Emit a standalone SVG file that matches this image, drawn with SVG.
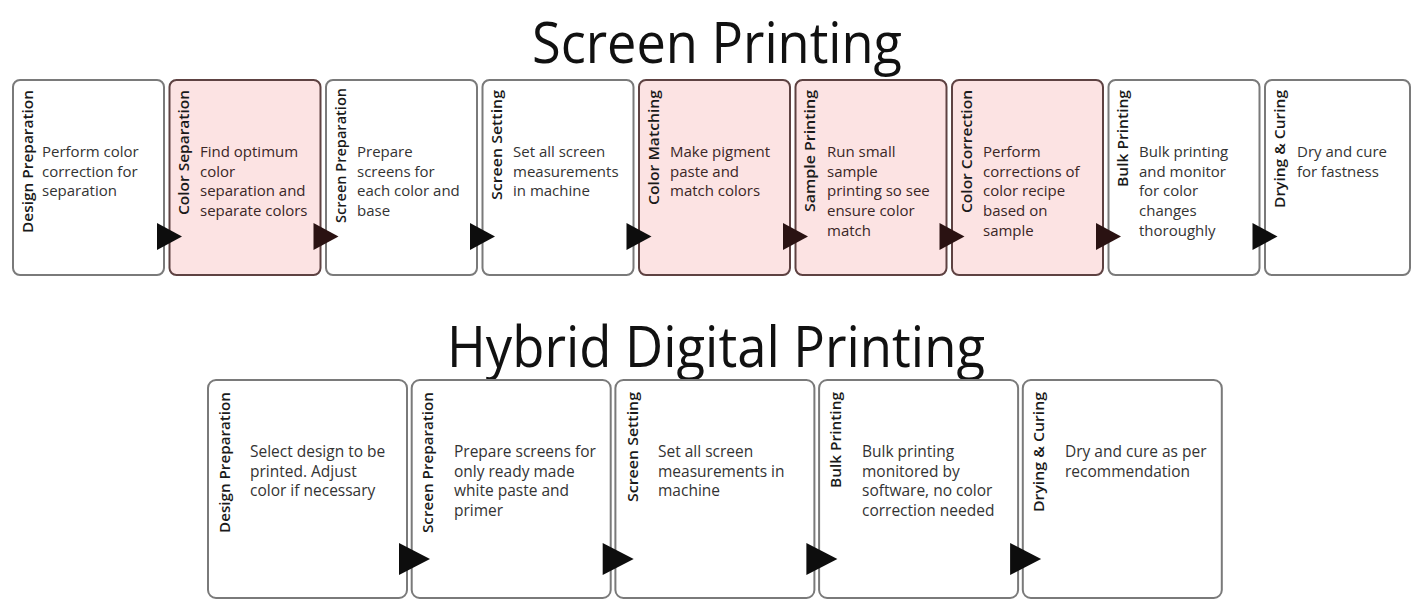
<svg xmlns="http://www.w3.org/2000/svg" width="1414" height="600" viewBox="0 0 1414 600">
<style>
.bg{fill:#ffffff}
.title{font-family:"Open Sans","Liberation Sans",sans-serif;font-size:56px;fill:#111;text-anchor:middle}
.box{fill:#ffffff;stroke:#7a7a7a;stroke-width:2}
.pink{fill:#fce3e3;stroke:#5e4242;stroke-width:2}
.lbl{font-family:"Open Sans","Liberation Sans",sans-serif;font-size:14px;font-weight:600;fill:#1a1a1a;text-anchor:end}
.txt{font-family:"Open Sans","Liberation Sans",sans-serif;font-size:15px;fill:#333}
.ptxt{font-family:"Open Sans","Liberation Sans",sans-serif;font-size:15px;fill:#3a2626}
.btxt{font-family:"Open Sans","Liberation Sans",sans-serif;font-size:15.5px;fill:#333}
.arr{fill:#0d0d0d}
.parr{fill:#2a1212}
</style>
<rect class="bg" x="0" y="0" width="1414" height="600"/>
<text class="title" x="717" y="63" textLength="370" lengthAdjust="spacingAndGlyphs">Screen Printing</text>
<text class="title" x="716" y="367" textLength="538" lengthAdjust="spacingAndGlyphs">Hybrid Digital Printing</text>

<!-- Top row -->
<g id="sp1">
<rect class="box" x="13" y="80" width="151" height="195" rx="7"/>
<text class="lbl" transform="translate(33,90) rotate(-90)" textLength="143" lengthAdjust="spacingAndGlyphs">Design Preparation</text>
<text class="txt" x="42" y="157"><tspan x="42">Perform color</tspan><tspan x="42" dy="19.7">correction for</tspan><tspan x="42" dy="19.7">separation</tspan></text>
</g>
<g id="sp2">
<rect class="pink" x="169.5" y="80" width="151" height="195" rx="7"/>
<text class="lbl" transform="translate(189,90) rotate(-90)" textLength="125" lengthAdjust="spacingAndGlyphs">Color Separation</text>
<text class="ptxt" x="200" y="157"><tspan x="200">Find optimum</tspan><tspan x="200" dy="19.7">color</tspan><tspan x="200" dy="19.7">separation and</tspan><tspan x="200" dy="19.7">separate colors</tspan></text>
</g>
<g id="sp3">
<rect class="box" x="326" y="80" width="151" height="195" rx="7"/>
<text class="lbl" transform="translate(345.5,88) rotate(-90)" textLength="135" lengthAdjust="spacingAndGlyphs">Screen Preparation</text>
<text class="txt" x="357" y="157"><tspan x="357">Prepare</tspan><tspan x="357" dy="19.7">screens for</tspan><tspan x="357" dy="19.7">each color and</tspan><tspan x="357" dy="19.7">base</tspan></text>
</g>
<g id="sp4">
<rect class="box" x="482.5" y="80" width="151" height="195" rx="7"/>
<text class="lbl" transform="translate(502,90) rotate(-90)" textLength="110" lengthAdjust="spacingAndGlyphs">Screen Setting</text>
<text class="txt" x="513" y="157"><tspan x="513">Set all screen</tspan><tspan x="513" dy="19.7">measurements</tspan><tspan x="513" dy="19.7">in machine</tspan></text>
</g>
<g id="sp5">
<rect class="pink" x="639" y="80" width="151" height="195" rx="7"/>
<text class="lbl" transform="translate(658.5,90) rotate(-90)" textLength="115" lengthAdjust="spacingAndGlyphs">Color Matching</text>
<text class="ptxt" x="670" y="157"><tspan x="670">Make pigment</tspan><tspan x="670" dy="19.7">paste and</tspan><tspan x="670" dy="19.7">match colors</tspan></text>
</g>
<g id="sp6">
<rect class="pink" x="795.5" y="80" width="151" height="195" rx="7"/>
<text class="lbl" transform="translate(815,90) rotate(-90)" textLength="122" lengthAdjust="spacingAndGlyphs">Sample Printing</text>
<text class="ptxt" x="827" y="157"><tspan x="827">Run small</tspan><tspan x="827" dy="19.7">sample</tspan><tspan x="827" dy="19.7">printing so see</tspan><tspan x="827" dy="19.7">ensure color</tspan><tspan x="827" dy="19.7">match</tspan></text>
</g>
<g id="sp7">
<rect class="pink" x="952" y="80" width="151" height="195" rx="7"/>
<text class="lbl" transform="translate(971.5,90) rotate(-90)" textLength="123" lengthAdjust="spacingAndGlyphs">Color Correction</text>
<text class="ptxt" x="983" y="157"><tspan x="983">Perform</tspan><tspan x="983" dy="19.7">corrections of</tspan><tspan x="983" dy="19.7">color recipe</tspan><tspan x="983" dy="19.7">based on</tspan><tspan x="983" dy="19.7">sample</tspan></text>
</g>
<g id="sp8">
<rect class="box" x="1108.5" y="80" width="151" height="195" rx="7"/>
<text class="lbl" transform="translate(1128,90) rotate(-90)" textLength="97" lengthAdjust="spacingAndGlyphs">Bulk Printing</text>
<text class="txt" x="1139" y="157"><tspan x="1139">Bulk printing</tspan><tspan x="1139" dy="19.7">and monitor</tspan><tspan x="1139" dy="19.7">for color</tspan><tspan x="1139" dy="19.7">changes</tspan><tspan x="1139" dy="19.7">thoroughly</tspan></text>
</g>
<g id="sp9">
<rect class="box" x="1265" y="80" width="145" height="195" rx="7"/>
<text class="lbl" transform="translate(1285,90) rotate(-90)" textLength="118" lengthAdjust="spacingAndGlyphs">Drying &amp; Curing</text>
<text class="txt" x="1297" y="157"><tspan x="1297">Dry and cure</tspan><tspan x="1297" dy="19.7">for fastness</tspan></text>
</g>

<!-- Bottom row -->
<g id="hd1">
<rect class="box" x="208" y="380" width="199" height="218" rx="8"/>
<text class="lbl" transform="translate(230,392) rotate(-90)" textLength="141" lengthAdjust="spacingAndGlyphs">Design Preparation</text>
<text class="btxt" x="250" y="457"><tspan x="250">Select design to be</tspan><tspan x="250" dy="19.7">printed. Adjust</tspan><tspan x="250" dy="19.7">color if necessary</tspan></text>
</g>
<g id="hd2">
<rect class="box" x="411.7" y="380" width="199" height="218" rx="8"/>
<text class="lbl" transform="translate(432.7,392) rotate(-90)" textLength="141" lengthAdjust="spacingAndGlyphs">Screen Preparation</text>
<text class="btxt" x="454" y="457"><tspan x="454">Prepare screens for</tspan><tspan x="454" dy="19.7">only ready made</tspan><tspan x="454" dy="19.7">white paste and</tspan><tspan x="454" dy="19.7">primer</tspan></text>
</g>
<g id="hd3">
<rect class="box" x="615.4" y="380" width="199" height="218" rx="8"/>
<text class="lbl" transform="translate(638,392) rotate(-90)" textLength="110" lengthAdjust="spacingAndGlyphs">Screen Setting</text>
<text class="btxt" x="658" y="457"><tspan x="658">Set all screen</tspan><tspan x="658" dy="19.7">measurements in</tspan><tspan x="658" dy="19.7">machine</tspan></text>
</g>
<g id="hd4">
<rect class="box" x="819.1" y="380" width="199" height="218" rx="8"/>
<text class="lbl" transform="translate(841,392) rotate(-90)" textLength="96" lengthAdjust="spacingAndGlyphs">Bulk Printing</text>
<text class="btxt" x="862" y="457"><tspan x="862">Bulk printing</tspan><tspan x="862" dy="19.7">monitored by</tspan><tspan x="862" dy="19.7">software, no color</tspan><tspan x="862" dy="19.7">correction needed</tspan></text>
</g>
<g id="hd5">
<rect class="box" x="1022.8" y="380" width="199" height="218" rx="8"/>
<text class="lbl" transform="translate(1044,392) rotate(-90)" textLength="120" lengthAdjust="spacingAndGlyphs">Drying &amp; Curing</text>
<text class="btxt" x="1065" y="457"><tspan x="1065">Dry and cure as per</tspan><tspan x="1065" dy="19.7">recommendation</tspan></text>
</g>

<!-- Connectors -->
<g id="connectors">
<polygon class="arr" points="157,223 182,236.5 157,250"/>
<polygon class="parr" points="313.5,223 338.5,236.5 313.5,250"/>
<polygon class="arr" points="470,223 495,236.5 470,250"/>
<polygon class="arr" points="626.5,223 651.5,236.5 626.5,250"/>
<polygon class="parr" points="783,223 808,236.5 783,250"/>
<polygon class="parr" points="939.5,223 964.5,236.5 939.5,250"/>
<polygon class="parr" points="1096,223 1121,236.5 1096,250"/>
<polygon class="arr" points="1252.5,223 1277.5,236.5 1252.5,250"/>
<polygon class="arr" points="399,543 430,559 399,575"/>
<polygon class="arr" points="602.7,543 633.7,559 602.7,575"/>
<polygon class="arr" points="806.4,543 837.4,559 806.4,575"/>
<polygon class="arr" points="1010.1,543 1041.1,559 1010.1,575"/>
</g>
</svg>
